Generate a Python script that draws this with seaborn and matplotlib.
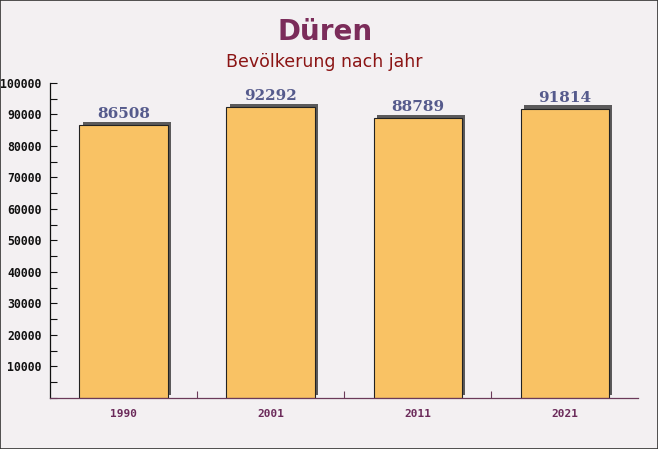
import matplotlib
matplotlib.use("Agg")
import matplotlib.pyplot as plt
import matplotlib.patheffects as pe
from matplotlib.ticker import MultipleLocator
import seaborn as sns
import pandas as pd

years = ["1990", "2001", "2011", "2021"]
population = [86508, 92292, 88789, 91814]
yticks = [10000, 20000, 30000, 40000, 50000, 60000, 70000, 80000, 90000, 100000]

sns.set_style("white")
plt.rcParams["font.family"] = ["DejaVu Sans"]

bg = "#f3f0f2"
fig = plt.figure(figsize=(6.58, 4.49), dpi=100, facecolor=bg)
ax = fig.add_axes([0.076, 0.1136, 0.894, 0.7016])
ax.set_facecolor("none")

df = pd.DataFrame({"year": years, "pop": population})
sns.barplot(data=df, x="year", y="pop", ax=ax, color="#f9c264", width=0.6,
            edgecolor="#222222", linewidth=0.8, saturation=1)

for p in ax.patches:
    p.set_path_effects([pe.SimplePatchShadow(offset=(2.4, 2.4), shadow_rgbFace="#4a4a4a", alpha=0.9),
                        pe.Normal()])

for i, v in enumerate(population):
    ax.annotate(f"{v}", (i, v), xytext=(0, 3), textcoords="offset points",
                ha="center", va="bottom", fontsize=11, fontweight="bold",
                family="DejaVu Serif", color="#555a8c")

ax.set_xlim(-0.5, 3.5)
ax.set_ylim(0, 100000)
ax.set_yticks(yticks)
ax.yaxis.set_minor_locator(MultipleLocator(5000))
ax.set_xticks([0.5, 1.5, 2.5], minor=True)
ax.set_xlabel("")
ax.set_ylabel("")

for lbl in ax.get_yticklabels():
    lbl.set_family("DejaVu Sans Mono")
    lbl.set_fontweight("bold")
    lbl.set_fontsize(8.3)
    lbl.set_color("#111111")
for lbl in ax.get_xticklabels():
    lbl.set_family("DejaVu Sans Mono")
    lbl.set_fontweight("bold")
    lbl.set_fontsize(8)
    lbl.set_color("#6b2a5a")

ax.tick_params(axis="y", which="both", direction="in", length=5, width=0.8, color="#111111", pad=6, left=True)
ax.tick_params(axis="x", which="major", length=0, pad=8)
ax.tick_params(axis="x", which="minor", direction="in", length=5, width=0.8, color="#6b3a5a", bottom=True)

for s in ["top", "right"]:
    ax.spines[s].set_visible(False)
ax.spines["left"].set_color("#111111")
ax.spines["left"].set_linewidth(0.9)
ax.spines["bottom"].set_color("#6b3a5a")
ax.spines["bottom"].set_linewidth(0.9)

fig.text(0.494, 0.928, "Düren", ha="center", va="center", fontsize=20,
         fontweight="bold", color="#7b2c5a")
fig.text(0.4935, 0.862, "Bevölkerung nach jahr", ha="center", va="center",
         fontsize=12.5, color="#8b1414")

fig.patches.append(plt.Rectangle((0, 0), 1, 1, transform=fig.transFigure,
                                 fill=False, edgecolor="#333333", linewidth=1.2))

fig.savefig("out.png", dpi=100, facecolor=bg)
